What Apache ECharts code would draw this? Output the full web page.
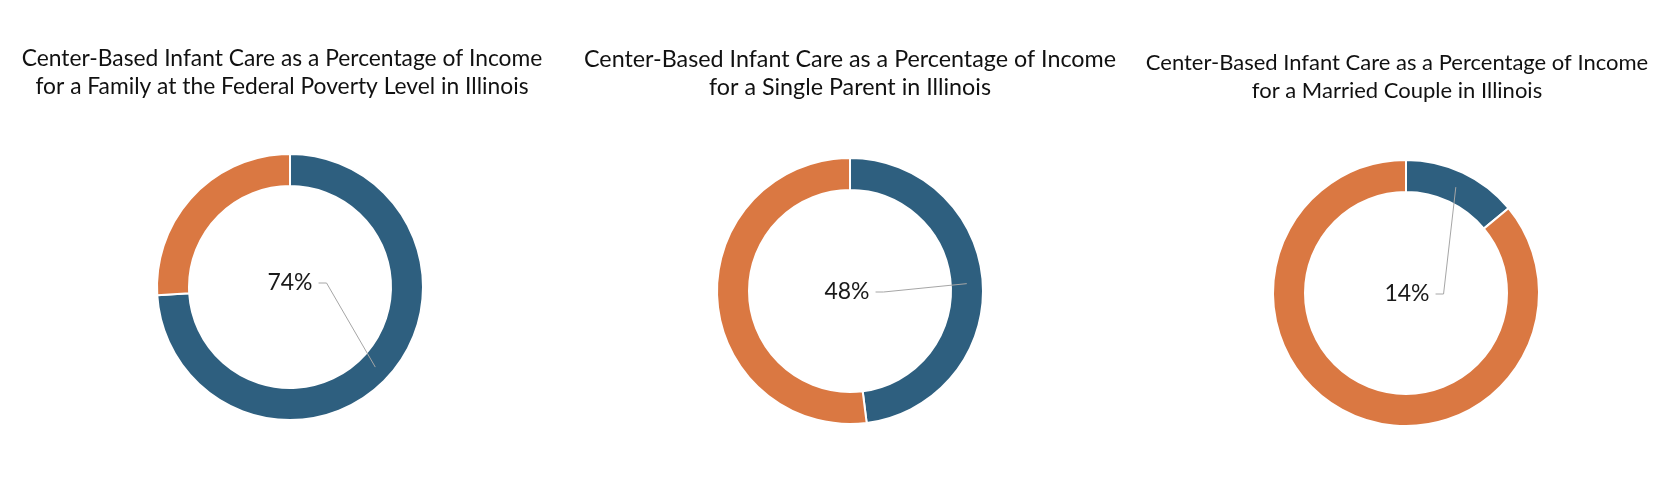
<!DOCTYPE html>
<html>
<head>
<meta charset="utf-8">
<script src="https://cdn.jsdelivr.net/npm/echarts@6/dist/echarts.min.js"></script>
<style>
  html, body { margin: 0; padding: 0; background: #fff; }
  #chart { width: 1662px; height: 484px; }
</style>
</head>
<body>
<div id="chart"></div>
<script>
// 图表数据
const chartTitles = [
    'Center-Based Infant Care as a Percentage of Income\nfor a Family at the Federal Poverty Level in Illinois',
    'Center-Based Infant Care as a Percentage of Income\nfor a Single Parent in Illinois',
    'Center-Based Infant Care as a Percentage of Income\nfor a Married Couple in Illinois'
];
const sliceNames = ['Infant care', 'Remaining income'];
const carePct = [74, 48, 14];
const remainPct = [26, 52, 86];

// 版式
const centers = [[290, 287], [850, 291], [1406, 293]];
const labelOffset = [[0, -4], [-3, 1], [1, 1]];
const titlePos = [[277, 40], [845, 40], [1392, 44]];
const titleSize = [22.8, 23.3, 22];
const radius = [101, 133];
const colors = ['#2E5F7F', '#DA7842'];
const FONT = 'Lato, "Open Sans", sans-serif';

// 数据项
function pieData(i, withColor) {
    return [
        { name: sliceNames[0], value: carePct[i], itemStyle: withColor ? { color: colors[0] } : undefined },
        {
            name: sliceNames[1], value: remainPct[i],
            itemStyle: withColor ? { color: colors[1] } : undefined,
            label: { show: false }, labelLine: { show: false }
        }
    ];
}

function buildOption() {
    const title = chartTitles.map((t, i) => ({
        text: t,
        left: titlePos[i][0],
        top: titlePos[i][1],
        textAlign: 'center',
        textStyle: {
            fontFamily: FONT,
            fontSize: titleSize[i],
            fontWeight: 'normal',
            color: '#111',
            lineHeight: 28
        }
    }));

    // 环形图
    const rings = carePct.map((v, i) => ({
        type: 'pie',
        z: 2,
        center: centers[i],
        radius: radius,
        startAngle: 90,
        clockwise: true,
        silent: true,
        itemStyle: { borderColor: '#fff', borderWidth: 2 },
        label: { show: false },
        labelLine: { show: false },
        data: pieData(i, true)
    }));

    // 叠加层：只画标签和引导线，使引导线显示在环上方
    const overlays = carePct.map((v, i) => ({
        type: 'pie',
        z: 5,
        center: centers[i],
        radius: radius,
        startAngle: 90,
        clockwise: true,
        silent: true,
        avoidLabelOverlap: false,
        itemStyle: { color: 'rgba(0,0,0,0)', borderWidth: 0 },
        labelLine: {
            show: true,
            length: 10,
            length2: 10,
            lineStyle: { color: '#A6A6A6', width: 1 }
        },
        label: {
            show: true,
            position: 'outside',
            formatter: '{c}%',
            fontFamily: FONT,
            fontSize: 23,
            color: '#1a1a1a'
        },
        labelLayout: function (params) {
            if (params.dataIndex !== 0 || !params.labelRect) return {};
            const s = params.seriesIndex - carePct.length;
            const c = centers[s];
            const w = params.labelRect.width;
            const cx = c[0] + labelOffset[s][0];
            const cy = c[1] + labelOffset[s][1];
            // 引导线指向扇区中间（环的中线）
            const total = carePct[s] + remainPct[s];
            const ang = (carePct[s] / 2) / total * Math.PI * 2;
            const rMid = (radius[0] + radius[1]) / 2;
            const p0 = [c[0] + rMid * Math.sin(ang), c[1] - rMid * Math.cos(ang)];
            return {
                x: cx,
                y: cy,
                align: 'center',
                verticalAlign: 'middle',
                labelLinePoints: [p0, [cx + w / 2 + 14, cy], [cx + w / 2 + 6, cy]]
            };
        },
        data: pieData(i, false)
    }));

    return {
        backgroundColor: '#fff',
        animation: false,
        title: title,
        series: rings.concat(overlays)
    };
}

document.addEventListener('DOMContentLoaded', function () {
    const chart = echarts.init(document.getElementById('chart'));
    chart.setOption(buildOption());
    window.addEventListener('resize', () => chart.resize());
});
</script>
</body>
</html>
